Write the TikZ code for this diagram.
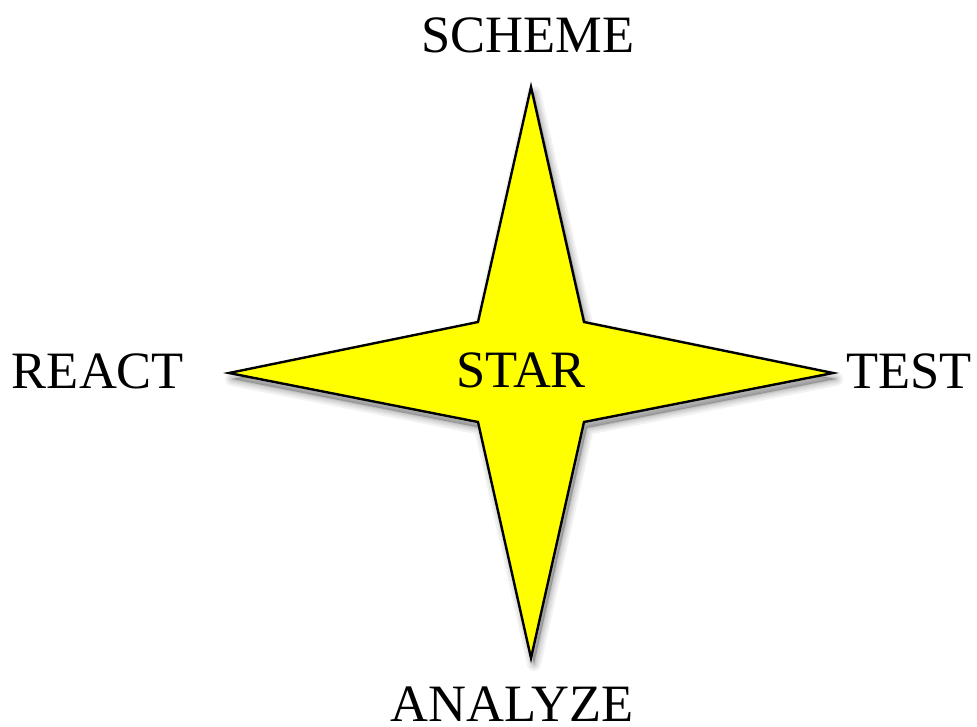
\documentclass[tikz,border=0pt]{standalone}
\usepackage{fontspec}
\setmainfont{Liberation Serif}
\begin{document}
\begin{tikzpicture}[x=1pt,y=-1pt,
  lbl/.style={font=\fontsize{52.5}{52.5}\selectfont, inner sep=0pt, anchor=base},
  starfill/.style={fill={rgb,255:red,255;green,255;blue,0}, draw=black, line width=2.4pt, line join=miter}]
\useasboundingbox (0,0) rectangle (977,726);
% soft shadow under the star
\foreach \w in {14,10,7,4,2}{
  \fill[black, opacity=0.05, draw=black, draw opacity=0.05, line width=\w pt, line join=round]
    ([shift={(3,6)}]531,87) -- ([shift={(3,6)}]584,322) -- ([shift={(3,6)}]833,373) -- ([shift={(3,6)}]584,422)
    -- ([shift={(3,6)}]531,658) -- ([shift={(3,6)}]478,422) -- ([shift={(3,6)}]229,373) -- ([shift={(3,6)}]478,322) -- cycle;
}
% four-pointed star
\draw[starfill] (531,87) -- (584,322) -- (833,373) -- (584,422)
  -- (531,658) -- (478,422) -- (229,373) -- (478,322) -- cycle;
\node[lbl] (star) at (521,387) {STAR};
\node[lbl] (scheme) at (528,52) {SCHEME};
\node[lbl] (react) at (98,388) {REACT};
\node[lbl] (test) at (909,388) {TEST};
\node[lbl] (analyze) at (512,721) {ANALYZE};
\end{tikzpicture}
\end{document}
